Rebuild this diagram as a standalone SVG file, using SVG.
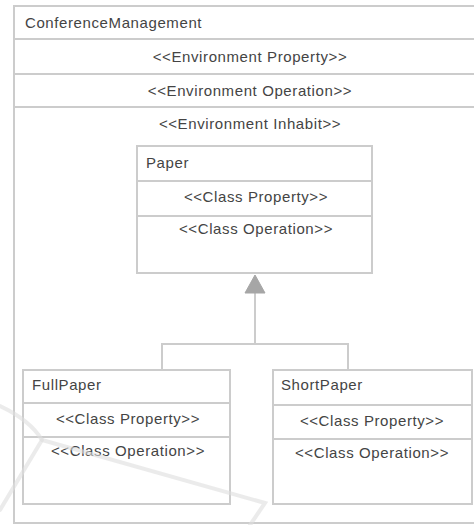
<svg xmlns="http://www.w3.org/2000/svg" width="474" height="525" viewBox="0 0 474 525">
  <style>
    .box { fill: #ffffff; stroke: #cccccc; stroke-width: 2; }
    .sep { stroke: #cccccc; stroke-width: 2; fill: none; }
    .conn { stroke: #cccccc; stroke-width: 2; fill: none; }
    .t { font-family: "Liberation Sans", Arial, sans-serif; font-size: 15px; fill: #444444; letter-spacing: 0.6px; }
    .c { text-anchor: middle; }
    .mark { stroke: #dddddd; stroke-width: 4; fill: none; stroke-linecap: round; opacity: 0.6; }
  </style>

  <rect x="0" y="0" width="474" height="525" fill="#ffffff"/>

  <!-- Environment container -->
  <g id="ConferenceManagement">
    <rect class="box" x="14" y="6" width="470" height="517"/>
    <line class="sep" x1="14" y1="39" x2="474" y2="39"/>
    <line class="sep" x1="14" y1="74" x2="474" y2="74"/>
    <line class="sep" x1="14" y1="107" x2="474" y2="107"/>
    <text class="t" x="25" y="28">ConferenceManagement</text>
    <text class="t c" x="250" y="62">&lt;&lt;Environment Property&gt;&gt;</text>
    <text class="t c" x="250" y="96">&lt;&lt;Environment Operation&gt;&gt;</text>
    <text class="t c" x="250" y="129">&lt;&lt;Environment Inhabit&gt;&gt;</text>
  </g>

  <!-- Generalization connectors -->
  <g id="connectors">
    <polyline class="conn" points="162,370 162,344 348,344 348,370"/>
    <line class="conn" x1="255" y1="344" x2="255" y2="292"/>
    <polygon points="255,275 265,293 245,293" fill="#a6a6a6" stroke="#a6a6a6" stroke-width="1"/>
  </g>

  <g id="Paper">
    <rect class="box" x="137" y="146" width="235" height="127"/>
    <line class="sep" x1="137" y1="181" x2="372" y2="181"/>
    <line class="sep" x1="137" y1="216" x2="372" y2="216"/>
    <text class="t" x="146" y="168">Paper</text>
    <text class="t c" x="256" y="202">&lt;&lt;Class Property&gt;&gt;</text>
    <text class="t c" x="256" y="234">&lt;&lt;Class Operation&gt;&gt;</text>
  </g>

  <g id="FullPaper">
    <rect class="box" x="23" y="370" width="207" height="134"/>
    <line class="sep" x1="23" y1="403" x2="230" y2="403"/>
    <line class="sep" x1="23" y1="437" x2="230" y2="437"/>
    <text class="t" x="32" y="390">FullPaper</text>
    <text class="t c" x="128" y="424">&lt;&lt;Class Property&gt;&gt;</text>
    <text class="t c" x="128" y="456">&lt;&lt;Class Operation&gt;&gt;</text>
  </g>

  <g id="ShortPaper">
    <rect class="box" x="273" y="370" width="199" height="134"/>
    <line class="sep" x1="273" y1="405" x2="472" y2="405"/>
    <line class="sep" x1="273" y1="439" x2="472" y2="439"/>
    <text class="t" x="281" y="390">ShortPaper</text>
    <text class="t c" x="372" y="426">&lt;&lt;Class Property&gt;&gt;</text>
    <text class="t c" x="372" y="458">&lt;&lt;Class Operation&gt;&gt;</text>
  </g>

  <!-- faint background mark -->
  <g id="mark">
    <path class="mark" d="M 0 406 Q 30 420 42 440 Q 150 470 265 503 L 250 525"/>
    <path class="mark" d="M 42 440 L 0 510"/>
  </g>
</svg>
